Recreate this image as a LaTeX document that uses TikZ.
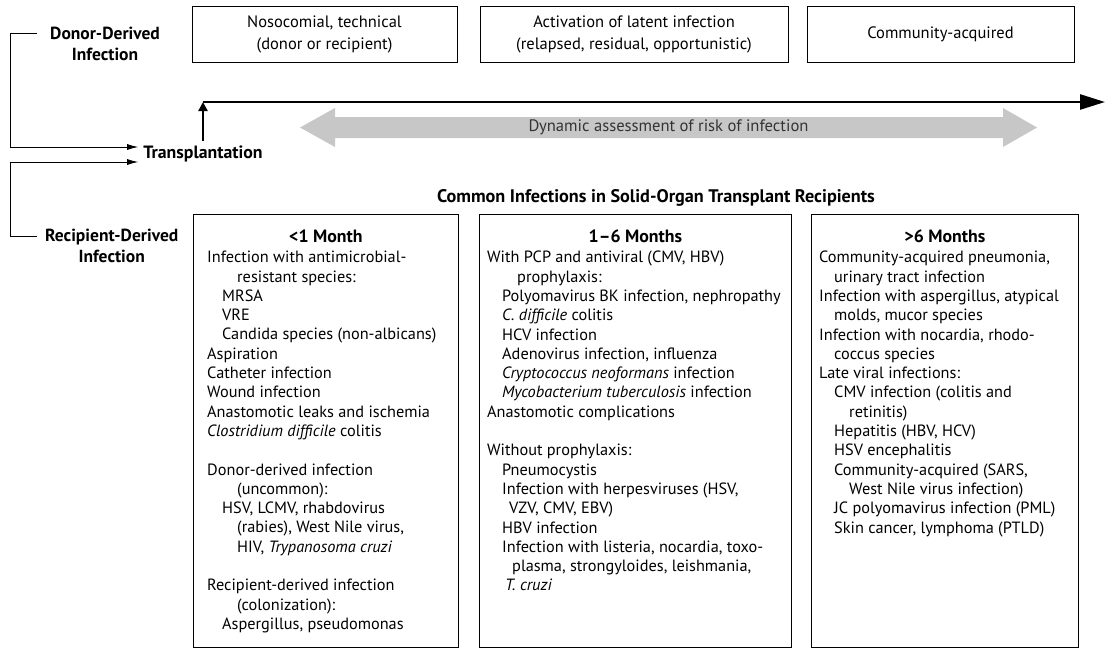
\documentclass[tikz,border=0pt]{standalone}
\usepackage{fontspec}
\setmainfont{PT Sans}
\usetikzlibrary{arrows.meta, positioning}
\definecolor{riskgray}{gray}{0.78}
\newcommand{\ia}{\hspace*{15pt}}
\newcommand{\ib}{\hspace*{30pt}}

\begin{document}
\begin{tikzpicture}[x=1pt, y=-1pt,
    phase/.style={draw, line width=0.8pt, minimum width=265pt, minimum height=56pt,
      align=center, font=\fontsize{16.5}{22}\selectfont},
    source/.style={font=\bfseries\fontsize{17.5}{21}\selectfont, align=center, inner sep=0pt},
    column/.style={draw, line width=0.8pt, anchor=north west, minimum height=433pt},
    coltitle/.style={font=\bfseries\fontsize{17.8}{20}\selectfont},
    items/.style={anchor=north west, align=left, inner sep=0pt,
      font=\fontsize{16.3}{19.3}\selectfont},
    link/.style={line width=0.8pt, -{Latex[length=11pt,width=6pt]}},
  ]
  \useasboundingbox (0,0) rectangle (1107,648);

  % periods of infection risk
  \node[phase] (nosocomial) at (324.5,34) {Nosocomial, technical\\(donor or recipient)};
  \node[phase, minimum width=308pt] (latent) at (634,34)
    {Activation of latent infection\\(relapsed, residual, opportunistic)};
  \node[phase, minimum width=267pt] (community) at (940.5,34) {Community-acquired};

  % sources and transplantation
  \node[source, anchor=west] (donor) at (50,44) {Donor-Derived\\Infection};
  \node[source, anchor=west] (recipient) at (45,246) {Recipient-Derived\\Infection};
  \node[source, inner sep=5pt, font=\bfseries\fontsize{17.8}{20}\selectfont]
    (transplant) at (203,154) {Transplantation};
  \draw[link] ([xshift=-13pt, yshift=10.5pt]donor.west) -- ++(-27,0)
    |- ([yshift=7pt]transplant.west);
  \draw[link] ([xshift=-8pt, yshift=10pt]recipient.west) -- ++(-27,0)
    |- ([yshift=-8pt]transplant.west);

  % time line
  \coordinate (start) at (203,102);
  \coordinate (end) at (1105,102);
  \draw[line width=2.6pt, -{Triangle[length=25pt,width=15pt]}] (start) -- (end);
  \draw[line width=2.5pt, -{Triangle[length=9pt,width=9pt]}] (transplant) -- (start);

  % risk assessment
  \fill[riskgray] (300,127.5) -- (335,108) -- (335,117) -- (1003,117) -- (1003,108)
    -- (1037,127.5) -- (1003,147) -- (1003,138) -- (335,138) -- (335,147) -- cycle;
  \node[font=\fontsize{16.6}{18}\selectfont, text=black!80] (risk) at (668.5,127.5)
    {Dynamic assessment of risk of infection};

  \node[font=\bfseries\fontsize{18.2}{20}\selectfont] (common) at (656,198)
    {Common Infections in Solid-Organ Transplant Recipients};

  % columns
  \node[column, minimum width=265pt] (early) at (193,214) {};
  \node[column, minimum width=312pt] (middle) at (479,214) {};
  \node[column, minimum width=267pt] (late) at (811,214) {};

  \node[coltitle] (earlyhead) at (early.north |- 0,236) {<1 Month};
  \node[coltitle] (middlehead) at (middle.north |- 0,236) {1--6 Months};
  \node[coltitle] (latehead) at (late.north |- 0,236) {>6 Months};

  \node[items] (earlylist) at (207,251) {Infection with antimicrobial-\\
    \ib resistant species:\\
    \ia MRSA\\
    \ia VRE\\
    \ia Candida species (non-albicans)\\
    Aspiration\\
    Catheter infection\\
    Wound infection\\
    Anastomotic leaks and ischemia\\
    \textit{Clostridium difficile} colitis\\[19.3pt]
    Donor-derived infection\\
    \ib (uncommon):\\
    \ia HSV, LCMV, rhabdovirus\\
    \ib (rabies), West Nile virus,\\
    \ib HIV, \textit{Trypanosoma cruzi}\\[19.3pt]
    Recipient-derived infection\\
    \ib (colonization):\\
    \ia Aspergillus, pseudomonas};

  \node[items] (middlelist) at (487,251) {With PCP and antiviral (CMV, HBV)\\
    \ib prophylaxis:\\
    \ia Polyomavirus BK infection, nephropathy\\
    \ia \textit{C. difficile} colitis\\
    \ia HCV infection\\
    \ia Adenovirus infection, influenza\\
    \ia \textit{Cryptococcus neoformans} infection\\
    \ia \textit{Mycobacterium tuberculosis} infection\\
    Anastomotic complications\\[19.3pt]
    Without prophylaxis:\\
    \ia Pneumocystis\\
    \ia Infection with herpesviruses (HSV,\\
    \hspace*{22pt}VZV, CMV, EBV)\\
    \ia HBV infection\\
    \ia Infection with listeria, nocardia, toxo-\\
    \hspace*{25pt}plasma, strongyloides, leishmania,\\
    \hspace*{18pt}\textit{T. cruzi}};

  \node[items] (latelist) at (819,251) {Community-acquired pneumonia,\\
    \ia urinary tract infection\\
    Infection with aspergillus, atypical\\
    \ia molds, mucor species\\
    Infection with nocardia, rhodo-\\
    \ia coccus species\\
    Late viral infections:\\
    \ia CMV infection (colitis and\\
    \ib retinitis)\\
    \ia Hepatitis (HBV, HCV)\\
    \ia HSV encephalitis\\
    \ia Community-acquired (SARS,\\
    \ib West Nile virus infection)\\
    \ia JC polyomavirus infection (PML)\\
    \ia Skin cancer, lymphoma (PTLD)};
\end{tikzpicture}
\end{document}
